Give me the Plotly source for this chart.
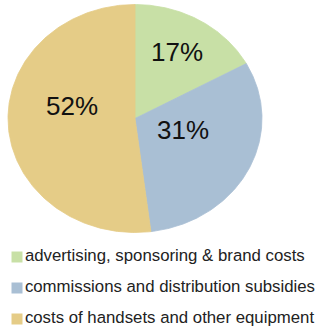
import numpy as np
import plotly.graph_objects as go

# Cost breakdown shares (percent)
categories = [
    "advertising, sponsoring & brand costs",
    "commissions and distribution subsidies",
    "costs of handsets and other equipment",
]
shares = [17, 31, 52]
colors = ["#C8E0A6", "#A9BFD4", "#E5CC87"]

# Ellipse geometry in pixel-like axis units
CX, CY = 135.0, 118.5
RX, RY = 127.0, 114.0
# label placement: (radius fraction, angular shift in degrees) per slice
label_place = [(0.67, -1.0), (0.39, -12.0), (0.51, 15.6)]

fig = go.Figure()

total = float(sum(shares))
start = 0.0
for name, val, col, (lr, shift) in zip(categories, shares, colors, label_place):
    span = 2 * np.pi * val / total
    t = np.linspace(start, start + span, 200)
    xs = np.concatenate([[CX], CX + RX * np.sin(t), [CX]])
    ys = np.concatenate([[CY], CY - RY * np.cos(t), [CY]])
    fig.add_trace(go.Scatter(
        x=xs, y=ys, mode="lines", fill="toself", fillcolor=col,
        line=dict(color=col, width=0.8), hoverinfo="skip", showlegend=False,
    ))
    mid = start + span / 2 + np.deg2rad(shift)
    fig.add_annotation(
        x=CX + lr * RX * np.sin(mid), y=CY - lr * RY * np.cos(mid),
        text=f"{val}%", showarrow=False,
        font=dict(family="Liberation Sans, Arial, sans-serif", size=26, color="#111111"),
    )
    start += span

# Legend drawn as square markers with labels beneath the pie
legend_x = 17
legend_y0, legend_dy = 257, 31
fig.add_trace(go.Scatter(
    x=[legend_x] * len(categories),
    y=[legend_y0 + i * legend_dy for i in range(len(categories))],
    mode="markers+text",
    marker=dict(symbol="square", size=11, color=colors),
    text=categories, textposition="middle right",
    textfont=dict(family="Liberation Sans, Arial, sans-serif", size=16.8, color="#222222"),
    hoverinfo="skip", showlegend=False,
))

fig.update_layout(
    width=323, height=330,
    margin=dict(l=0, r=0, t=0, b=0),
    paper_bgcolor="white", plot_bgcolor="white",
    xaxis=dict(range=[0, 323], visible=False, fixedrange=True),
    yaxis=dict(range=[330, 0], visible=False, fixedrange=True),
    showlegend=False,
)

fig.write_html("out.html")
